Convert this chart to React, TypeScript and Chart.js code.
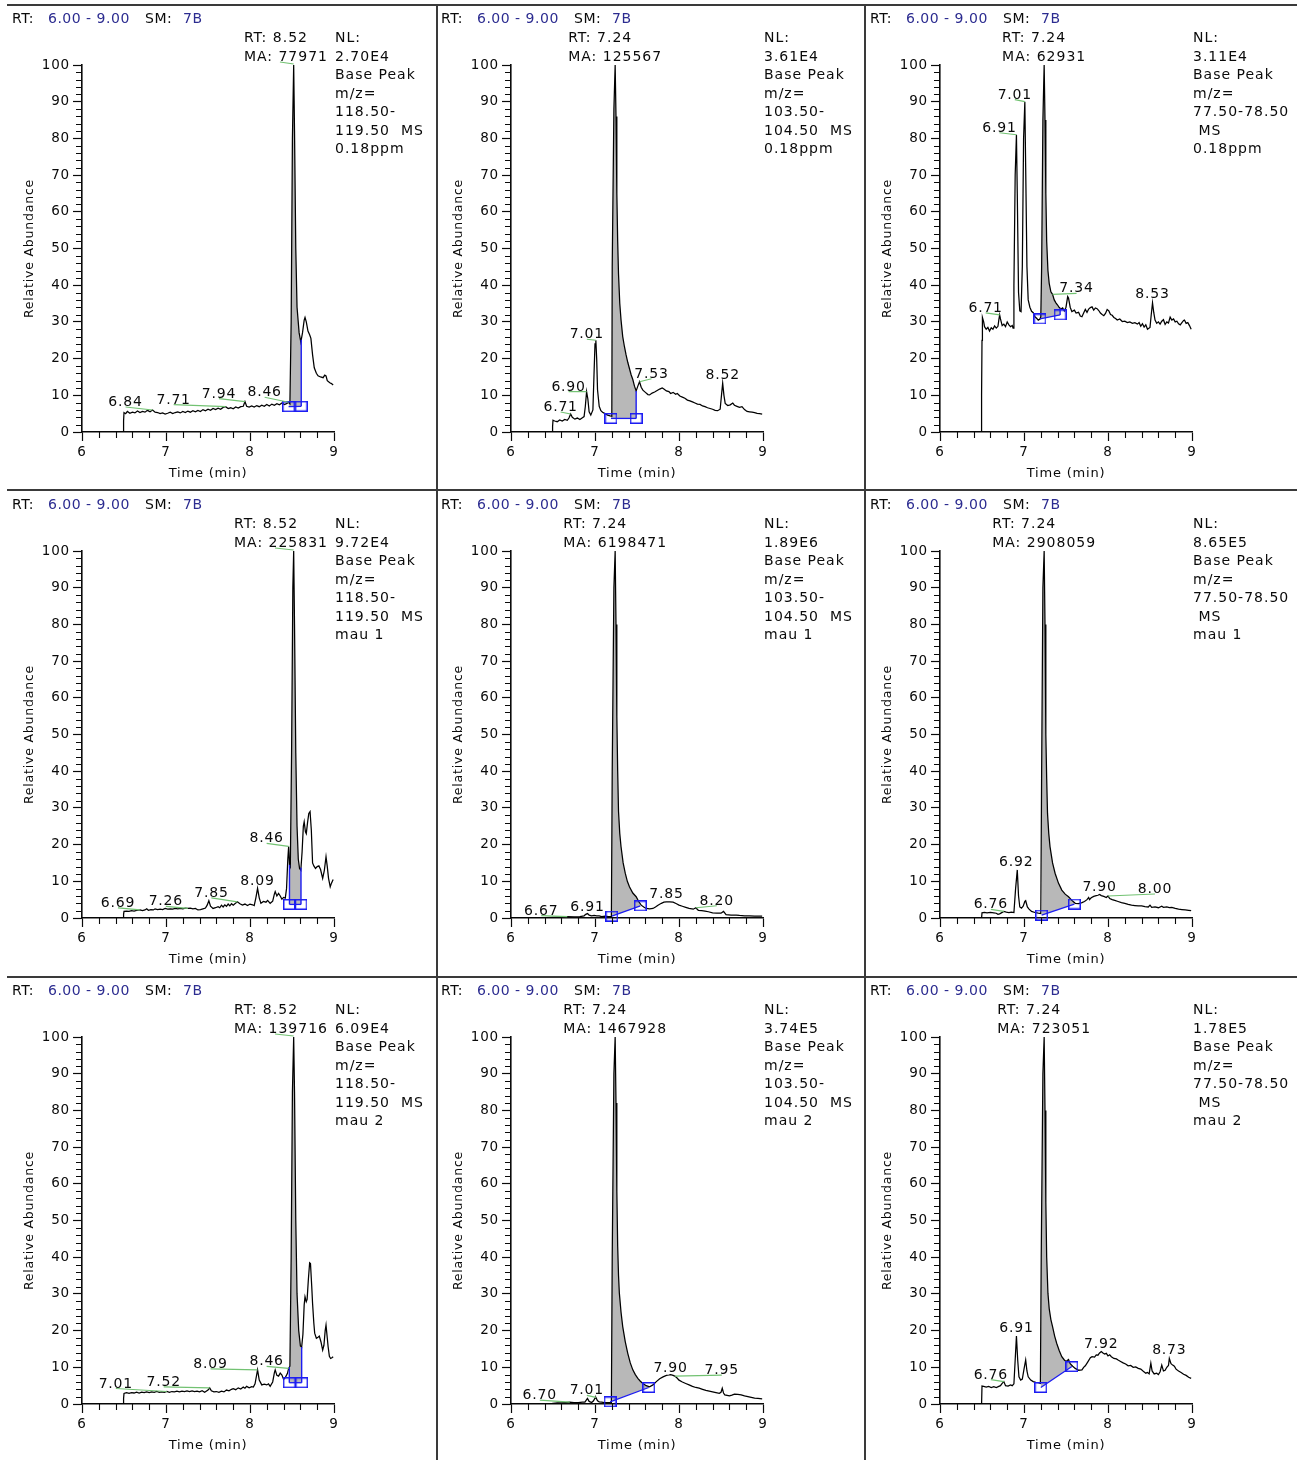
import React, { useEffect, useRef } from 'react';
import { Chart, registerables } from 'chart.js';

Chart.register(...registerables);

type Pt = [number, number];

// ---------- Chromatogram traces: [retention time (min), relative abundance (%)] ----------

// 0.18ppm, m/z 118.50-119.50
const ppm118: Pt[] = [
  [6.00, 0], [6.49, 0], [6.495, 3.0], [6.50, 5.3], [6.52, 5.0], [6.54, 5.6], [6.57, 5.1], [6.60, 5.4], [6.63, 5.2],
  [6.66, 5.7], [6.69, 5.3], [6.72, 5.6], [6.75, 5.4], [6.78, 5.9], [6.81, 5.5], [6.84, 6.0], [6.87, 5.4], [6.90, 5.3],
  [6.93, 5.0], [6.96, 5.2], [6.99, 4.9], [7.02, 5.1], [7.05, 5.4], [7.08, 5.0], [7.11, 5.3], [7.14, 5.5], [7.17, 5.2],
  [7.20, 5.6], [7.23, 5.3], [7.26, 5.7], [7.29, 5.4], [7.32, 5.8], [7.35, 5.5], [7.38, 5.9], [7.41, 5.6], [7.44, 6.1],
  [7.47, 5.8], [7.50, 6.2], [7.53, 5.9], [7.56, 6.4], [7.59, 6.1], [7.62, 6.5], [7.65, 6.2], [7.68, 6.7], [7.71, 6.9],
  [7.74, 6.4], [7.77, 6.6], [7.80, 6.3], [7.83, 6.8], [7.86, 6.5], [7.89, 6.9], [7.92, 7.0], [7.94, 8.3], [7.96, 7.0],
  [7.99, 6.8], [8.02, 7.1], [8.05, 6.8], [8.08, 7.2], [8.11, 6.9], [8.14, 7.3], [8.17, 7.0], [8.20, 7.5], [8.23, 7.1],
  [8.26, 7.6], [8.29, 7.3], [8.32, 7.7], [8.35, 7.4], [8.38, 7.9], [8.41, 7.5], [8.44, 7.8], [8.46, 8.1], [8.475, 7.7],
  [8.49, 30], [8.505, 80], [8.52, 100], [8.53, 82], [8.545, 50], [8.56, 34], [8.585, 27], [8.605, 24.5], [8.625, 27],
  [8.645, 30.5], [8.655, 31.2], [8.67, 30], [8.69, 27.5], [8.71, 26.5], [8.725, 25.5], [8.745, 21], [8.765, 17.5],
  [8.79, 16], [8.81, 15.3], [8.84, 15], [8.87, 14.8], [8.89, 15.5], [8.905, 15.3], [8.92, 14], [8.95, 13.4],
  [8.97, 13.2], [8.99, 12.8],
];

// 0.18ppm, m/z 103.50-104.50
const ppm103: Pt[] = [
  [6.00, 0], [6.49, 0], [6.495, 1.5], [6.50, 3.2], [6.52, 3.0], [6.55, 2.8], [6.58, 3.3], [6.61, 3.0], [6.64, 3.4],
  [6.67, 3.2], [6.69, 3.8], [6.71, 4.9], [6.73, 4.0], [6.76, 3.5], [6.79, 3.8], [6.82, 3.4], [6.85, 3.9], [6.87, 4.2],
  [6.885, 7], [6.90, 11], [6.915, 9], [6.93, 5.5], [6.95, 4.6], [6.975, 6], [6.99, 17], [7.00, 24], [7.01, 25],
  [7.02, 20], [7.03, 11.5], [7.05, 7], [7.07, 5.8], [7.09, 5.4], [7.12, 5.0], [7.15, 4.6], [7.18, 4.4], [7.20, 4.3],
  [7.205, 45], [7.225, 88], [7.24, 100], [7.25, 86], [7.26, 65], [7.27, 52], [7.28, 43], [7.295, 35], [7.31, 30.5],
  [7.33, 26], [7.35, 23.3], [7.37, 21], [7.39, 19], [7.41, 17.3], [7.43, 15.6], [7.45, 14.3], [7.47, 12.5],
  [7.49, 11.2], [7.51, 12.5], [7.53, 13.7], [7.55, 12.2], [7.57, 11.4], [7.60, 10.8], [7.63, 10.2], [7.65, 10.1],
  [7.68, 10.6], [7.71, 10.9], [7.74, 11.3], [7.77, 11.7], [7.80, 12.0], [7.82, 11.7], [7.85, 11.2], [7.88, 11.0],
  [7.90, 10.5], [7.93, 10.8], [7.96, 10.3], [7.98, 10.5], [8.01, 9.8], [8.04, 9.5], [8.07, 9.2], [8.10, 8.7],
  [8.13, 8.5], [8.16, 8.2], [8.19, 7.9], [8.22, 7.6], [8.25, 7.5], [8.28, 7.1], [8.31, 6.9], [8.34, 6.6], [8.37, 6.4],
  [8.40, 6.2], [8.43, 5.9], [8.46, 5.8], [8.49, 6.2], [8.51, 11], [8.52, 13.3], [8.535, 10], [8.55, 7.8], [8.58, 7.2],
  [8.61, 7.4], [8.64, 7.9], [8.66, 7.3], [8.69, 7.0], [8.72, 6.7], [8.75, 6.9], [8.78, 6.1], [8.81, 5.6], [8.84, 5.5],
  [8.87, 5.4], [8.90, 5.3], [8.93, 5.1], [8.96, 5.0], [8.99, 4.9],
];

// 0.18ppm, m/z 77.50-78.50
const ppm77: Pt[] = [
  [6.00, 0], [6.49, 0], [6.495, 10], [6.50, 25], [6.505, 31.2], [6.52, 30], [6.53, 28.7], [6.55, 28.0], [6.57, 28.5],
  [6.59, 27.5], [6.61, 28.4], [6.63, 28.0], [6.65, 28.9], [6.67, 28.3], [6.69, 28.8], [6.70, 30.5], [6.71, 31.9],
  [6.72, 30.8], [6.74, 29.0], [6.76, 29.4], [6.78, 28.7], [6.80, 30.0], [6.82, 29.2], [6.84, 28.7], [6.86, 29.0],
  [6.87, 28.3], [6.88, 40], [6.895, 70], [6.91, 81], [6.92, 65], [6.935, 38], [6.95, 33], [6.965, 32.8], [6.98, 45],
  [6.995, 80], [7.01, 90], [7.02, 72], [7.035, 45], [7.05, 36], [7.07, 34], [7.09, 32.9], [7.11, 32.5], [7.13, 31.4],
  [7.15, 31.0], [7.17, 30.5], [7.19, 30.8], [7.20, 31.4], [7.21, 45], [7.225, 85], [7.24, 100], [7.25, 85],
  [7.26, 65], [7.27, 52], [7.285, 44], [7.30, 40.5], [7.32, 38.2], [7.34, 37.5], [7.36, 36], [7.38, 35.2],
  [7.40, 34.6], [7.42, 33.9], [7.44, 33.5], [7.46, 33.8], [7.48, 33.0], [7.50, 34.0], [7.52, 36.9], [7.53, 36.5],
  [7.55, 34.0], [7.57, 32.8], [7.60, 33.2], [7.62, 32.4], [7.65, 32.6], [7.67, 31.6], [7.69, 31.4], [7.71, 32.4],
  [7.73, 33.4], [7.75, 32.6], [7.77, 33.5], [7.79, 33.9], [7.81, 34.1], [7.83, 33.2], [7.85, 33.8], [7.87, 33.6],
  [7.89, 33.1], [7.91, 32.4], [7.93, 32.0], [7.95, 31.7], [7.97, 32.3], [7.99, 33.4], [8.01, 33.0], [8.03, 32.0],
  [8.05, 31.8], [8.07, 31.2], [8.09, 30.9], [8.11, 30.5], [8.14, 30.8], [8.17, 30.1], [8.20, 30.2], [8.23, 29.8],
  [8.26, 30.0], [8.29, 29.6], [8.32, 29.8], [8.35, 29.4], [8.37, 29.8], [8.39, 28.8], [8.41, 29.5], [8.43, 28.6],
  [8.45, 29.2], [8.47, 28.0], [8.50, 28.5], [8.515, 32], [8.53, 35.2], [8.545, 32.5], [8.56, 30.5], [8.58, 29.6],
  [8.60, 30.0], [8.62, 29.4], [8.64, 30.2], [8.66, 30.6], [8.68, 29.3], [8.70, 30.0], [8.72, 29.7], [8.74, 31.3],
  [8.76, 30.5], [8.78, 30.8], [8.80, 30.0], [8.82, 30.2], [8.84, 29.5], [8.86, 29.2], [8.88, 29.8], [8.90, 30.4],
  [8.91, 30.5], [8.93, 29.6], [8.95, 29.8], [8.97, 29.0], [8.99, 28.0],
];

// mau 1, m/z 118.50-119.50
const mau1_118: Pt[] = [
  [6.00, 0], [6.49, 0], [6.495, 1.0], [6.50, 1.8], [6.53, 1.9], [6.56, 1.8], [6.59, 2.0], [6.62, 1.9], [6.65, 2.1],
  [6.69, 2.2], [6.72, 2.0], [6.75, 2.2], [6.77, 2.5], [6.79, 2.1], [6.82, 2.3], [6.85, 2.2], [6.87, 2.5], [6.90, 2.3],
  [6.93, 2.4], [6.96, 2.3], [6.99, 2.6], [7.02, 2.4], [7.05, 2.5], [7.08, 2.4], [7.11, 2.6], [7.14, 2.5], [7.17, 2.6],
  [7.20, 2.5], [7.23, 2.7], [7.26, 2.6], [7.29, 2.7], [7.32, 2.5], [7.35, 2.6], [7.38, 2.2], [7.41, 2.3], [7.44, 2.5],
  [7.47, 2.7], [7.49, 3.5], [7.51, 4.7], [7.53, 3.2], [7.56, 2.6], [7.59, 2.8], [7.62, 3.1], [7.64, 2.8], [7.66, 3.5],
  [7.68, 3.0], [7.70, 3.6], [7.72, 3.2], [7.74, 3.8], [7.76, 3.3], [7.78, 3.9], [7.80, 3.5], [7.82, 3.9], [7.85, 4.4],
  [7.88, 3.9], [7.91, 3.5], [7.94, 3.8], [7.97, 3.4], [8.00, 3.8], [8.03, 3.6], [8.05, 3.4], [8.07, 5.5], [8.09, 8.1],
  [8.11, 5.5], [8.13, 4.0], [8.16, 4.5], [8.19, 4.3], [8.21, 4.8], [8.24, 4.0], [8.27, 4.6], [8.29, 6.5], [8.30, 7.2],
  [8.32, 6.0], [8.34, 6.7], [8.36, 6.0], [8.38, 5.1], [8.40, 5.6], [8.42, 5.4], [8.435, 8], [8.45, 16], [8.46, 19.5],
  [8.47, 14.5], [8.48, 14], [8.495, 45], [8.51, 90], [8.52, 100], [8.53, 80], [8.545, 45], [8.56, 25], [8.575, 16],
  [8.59, 13.5], [8.605, 13], [8.62, 18], [8.635, 25], [8.645, 26.2], [8.66, 23.5], [8.67, 23], [8.685, 26], [8.70, 28.5],
  [8.715, 29], [8.73, 24], [8.745, 15], [8.76, 14.2], [8.78, 13.5], [8.80, 14.0], [8.82, 14.2], [8.84, 13.2],
  [8.865, 10.8], [8.885, 13], [8.905, 16.7], [8.92, 14], [8.935, 10.8], [8.955, 8.5], [8.97, 9.5], [8.99, 10.5],
];

// mau 1, m/z 103.50-104.50
const mau1_103: Pt[] = [
  [6.00, 0], [6.40, 0.1], [6.50, 0.2], [6.60, 0.3], [6.67, 0.4], [6.75, 0.3], [6.82, 0.4], [6.87, 0.6], [6.89, 1.0],
  [6.91, 1.2], [6.93, 0.8], [6.96, 0.6], [6.99, 0.7], [7.02, 0.6], [7.05, 0.6], [7.08, 0.4], [7.12, 0.5], [7.16, 0.4],
  [7.195, 0.4], [7.205, 40], [7.225, 90], [7.24, 100], [7.25, 80], [7.26, 55], [7.27, 40], [7.28, 29], [7.295, 23],
  [7.31, 19.4], [7.335, 15], [7.36, 12.2], [7.385, 10], [7.41, 8.5], [7.45, 6.8], [7.49, 5.8], [7.52, 4.5],
  [7.55, 3.5], [7.58, 3.0], [7.61, 2.6], [7.65, 2.5], [7.69, 2.6], [7.72, 3.0], [7.75, 3.5], [7.79, 4.0], [7.82, 4.3],
  [7.85, 4.4], [7.89, 4.4], [7.93, 4.3], [7.97, 3.9], [8.00, 3.5], [8.04, 3.2], [8.08, 2.9], [8.12, 2.6], [8.17, 2.4],
  [8.20, 2.8], [8.23, 2.1], [8.27, 2.0], [8.31, 1.9], [8.35, 1.7], [8.40, 1.4], [8.45, 1.3], [8.50, 1.3], [8.53, 1.8],
  [8.56, 0.9], [8.62, 0.8], [8.68, 0.8], [8.72, 0.7], [8.78, 0.6], [8.84, 0.6], [8.90, 0.5], [8.95, 0.5], [8.99, 0.5],
];

// mau 1, m/z 77.50-78.50
const mau1_77: Pt[] = [
  [6.00, 0], [6.495, 0], [6.50, 1.4], [6.53, 1.5], [6.56, 1.4], [6.60, 1.5], [6.64, 1.4], [6.67, 1.3], [6.69, 1.0],
  [6.71, 1.1], [6.73, 1.4], [6.76, 1.8], [6.79, 1.6], [6.82, 1.5], [6.85, 1.6], [6.88, 1.5], [6.90, 8], [6.92, 13.1],
  [6.935, 6], [6.95, 3.0], [6.97, 2.7], [6.99, 3.2], [7.01, 4.5], [7.02, 4.7], [7.04, 3.0], [7.06, 2.4], [7.09, 1.8],
  [7.13, 1.5], [7.17, 1.3], [7.20, 1.2], [7.21, 40], [7.225, 90], [7.24, 100], [7.25, 80], [7.26, 50], [7.27, 38],
  [7.28, 28.5], [7.295, 23], [7.31, 19.4], [7.34, 15], [7.37, 12.2], [7.41, 9.5], [7.45, 7.6], [7.49, 6.5],
  [7.53, 5.8], [7.57, 4.8], [7.61, 4.0], [7.65, 3.9], [7.69, 4.2], [7.72, 4.5], [7.75, 5.0], [7.77, 5.6], [7.78, 5.0],
  [7.80, 5.5], [7.83, 5.9], [7.86, 6.1], [7.88, 6.2], [7.90, 6.4], [7.92, 6.1], [7.95, 5.9], [7.98, 5.6], [8.00, 6.0],
  [8.02, 5.3], [8.05, 5.0], [8.08, 4.8], [8.12, 4.5], [8.16, 4.2], [8.20, 4.0], [8.24, 3.7], [8.28, 3.5], [8.32, 3.4],
  [8.36, 3.3], [8.40, 3.3], [8.44, 3.1], [8.48, 3.0], [8.50, 3.5], [8.52, 2.9], [8.56, 3.0], [8.60, 2.8], [8.64, 3.2],
  [8.66, 2.9], [8.70, 3.0], [8.73, 2.8], [8.76, 2.9], [8.80, 2.6], [8.84, 2.4], [8.88, 2.3], [8.92, 2.2], [8.96, 2.1],
  [8.99, 2.0],
];

// mau 2, m/z 118.50-119.50
const mau2_118: Pt[] = [
  [6.00, 0], [6.49, 0], [6.495, 1.5], [6.50, 2.9], [6.53, 3.1], [6.56, 2.9], [6.59, 3.1], [6.62, 3.0], [6.65, 3.2],
  [6.68, 3.0], [6.71, 3.2], [6.74, 3.1], [6.77, 3.3], [6.80, 3.1], [6.83, 3.3], [6.86, 3.2], [6.89, 3.4], [6.92, 3.2],
  [6.95, 3.3], [6.98, 3.2], [7.01, 3.4], [7.04, 3.2], [7.07, 3.4], [7.10, 3.3], [7.13, 3.5], [7.16, 3.3], [7.19, 3.5],
  [7.22, 3.4], [7.25, 3.6], [7.28, 3.4], [7.31, 3.6], [7.34, 3.4], [7.37, 3.5], [7.40, 3.3], [7.43, 3.6], [7.46, 3.2],
  [7.50, 3.8], [7.52, 4.4], [7.54, 3.6], [7.57, 3.3], [7.60, 3.4], [7.63, 3.2], [7.66, 3.5], [7.69, 3.3], [7.72, 3.8],
  [7.75, 3.6], [7.78, 4.0], [7.80, 4.2], [7.83, 3.9], [7.86, 4.4], [7.89, 4.1], [7.92, 4.6], [7.94, 4.3], [7.96, 4.8],
  [7.99, 4.4], [8.02, 4.7], [8.04, 4.6], [8.06, 5.5], [8.09, 9.3], [8.11, 6.5], [8.14, 5.2], [8.17, 5.4], [8.20, 5.2],
  [8.22, 5.5], [8.24, 4.8], [8.27, 6.0], [8.29, 8.5], [8.30, 9.3], [8.32, 7.8], [8.34, 7.6], [8.36, 8.4], [8.38, 7.9],
  [8.40, 6.7], [8.42, 7.2], [8.445, 8.3], [8.46, 9.7], [8.475, 10.3], [8.49, 40], [8.505, 85], [8.52, 100],
  [8.53, 85], [8.545, 50], [8.56, 30], [8.58, 20], [8.60, 15.8], [8.615, 15.5], [8.63, 19], [8.645, 27],
  [8.655, 29.2], [8.67, 27.9], [8.68, 28.5], [8.695, 34], [8.71, 38.5], [8.72, 38.3], [8.735, 32], [8.745, 27.4],
  [8.76, 22], [8.77, 19.3], [8.79, 17.9], [8.81, 18.2], [8.825, 18.5], [8.845, 16.9], [8.865, 14.7], [8.88, 16],
  [8.895, 20], [8.905, 21.5], [8.92, 18], [8.93, 15.6], [8.945, 13], [8.96, 12.4], [8.975, 12.6], [8.99, 12.9],
];

// mau 2, m/z 103.50-104.50
const mau2_103: Pt[] = [
  [6.00, 0], [6.45, 0], [6.50, 0.2], [6.55, 0.3], [6.60, 0.3], [6.65, 0.4], [6.70, 0.5], [6.75, 0.4], [6.80, 0.4],
  [6.85, 0.5], [6.88, 0.5], [6.90, 1.2], [6.91, 1.5], [6.93, 0.7], [6.96, 0.4], [6.98, 0.8], [7.00, 1.6], [7.01, 1.8],
  [7.03, 0.9], [7.05, 0.6], [7.08, 0.5], [7.11, 0.4], [7.15, 0.4], [7.195, 0.4], [7.205, 40], [7.225, 90], [7.24, 100],
  [7.25, 82], [7.26, 58], [7.27, 43], [7.28, 35], [7.29, 30.2], [7.31, 25], [7.33, 21.1], [7.36, 17], [7.39, 13.8],
  [7.42, 11.2], [7.45, 9.3], [7.48, 8.0], [7.51, 7.0], [7.54, 6.2], [7.57, 5.6], [7.61, 5.0], [7.65, 4.7], [7.69, 5.2],
  [7.73, 6.1], [7.77, 6.9], [7.81, 7.4], [7.85, 7.8], [7.88, 7.9], [7.90, 8.0], [7.93, 7.8], [7.95, 7.6], [7.98, 7.0],
  [8.00, 6.5], [8.04, 6.0], [8.08, 5.6], [8.12, 5.2], [8.16, 4.8], [8.20, 4.5], [8.24, 4.3], [8.28, 4.0], [8.32, 3.7],
  [8.36, 3.5], [8.40, 3.3], [8.44, 3.1], [8.48, 2.9], [8.50, 3.2], [8.515, 4.3], [8.53, 3.0], [8.545, 2.5], [8.60, 2.2],
  [8.63, 2.4], [8.66, 2.7], [8.70, 2.6], [8.74, 2.5], [8.78, 2.2], [8.82, 2.0], [8.86, 1.8], [8.90, 1.6], [8.94, 1.5],
  [8.99, 1.4],
];

// mau 2, m/z 77.50-78.50
const mau2_77: Pt[] = [
  [6.00, 0], [6.495, 0], [6.50, 4.9], [6.52, 4.8], [6.55, 4.6], [6.58, 4.8], [6.61, 4.5], [6.64, 4.7], [6.67, 4.5],
  [6.70, 4.8], [6.72, 5.0], [6.74, 5.6], [6.76, 6.1], [6.78, 5.0], [6.81, 4.9], [6.84, 5.2], [6.86, 5.0], [6.88, 5.5],
  [6.895, 12], [6.91, 18.5], [6.925, 12], [6.94, 7.4], [6.96, 6.5], [6.98, 6.8], [7.00, 9.5], [7.02, 12.0],
  [7.035, 9], [7.05, 7.4], [7.08, 6.5], [7.11, 6.1], [7.14, 5.9], [7.17, 5.8], [7.195, 5.6], [7.205, 40], [7.225, 90],
  [7.24, 100], [7.25, 80], [7.26, 55], [7.27, 40], [7.285, 30.2], [7.30, 26], [7.32, 23], [7.34, 21.1], [7.365, 18.5],
  [7.39, 16.5], [7.42, 14.5], [7.45, 12.9], [7.48, 12.0], [7.50, 11.6], [7.53, 12.1], [7.55, 11.0], [7.58, 10.3],
  [7.61, 9.7], [7.65, 9.2], [7.69, 9.3], [7.71, 10.0], [7.73, 10.4], [7.76, 11.5], [7.79, 12.6], [7.81, 12.9],
  [7.84, 12.8], [7.86, 13.4], [7.88, 13.3], [7.90, 13.9], [7.92, 14.3], [7.94, 13.9], [7.96, 13.6], [7.98, 13.8],
  [8.00, 13.1], [8.02, 13.4], [8.04, 12.9], [8.07, 12.4], [8.10, 12.3], [8.12, 12.0], [8.15, 11.6], [8.18, 11.2],
  [8.21, 10.9], [8.24, 10.4], [8.27, 10.5], [8.30, 10.0], [8.33, 10.1], [8.36, 9.7], [8.39, 9.5], [8.42, 8.9],
  [8.45, 8.4], [8.47, 8.6], [8.49, 8.2], [8.51, 11.1], [8.525, 9], [8.55, 8.2], [8.58, 8.4], [8.60, 8.0], [8.62, 8.8],
  [8.64, 10.6], [8.66, 9.0], [8.68, 9.2], [8.70, 10.0], [8.72, 10.5], [8.73, 12.4], [8.75, 11.0], [8.77, 10.6],
  [8.79, 10.3], [8.81, 9.5], [8.84, 9.0], [8.87, 8.6], [8.90, 8.1], [8.93, 7.8], [8.96, 7.3], [8.99, 7.0],
];

const traces: Pt[][] = [ppm118, ppm103, ppm77, mau1_118, mau1_103, mau1_77, mau2_118, mau2_103, mau2_77];

// ---------- Integrated peak: baseline start / end points ----------
const areaStarts: Pt[] = [[8.46, 6.9], [7.19, 3.7], [7.19, 30.8], [8.47, 3.7], [7.20, 0.5], [7.21, 0.8], [8.468, 5.8], [7.18, 0.6], [7.20, 4.5]];
const areaEnds: Pt[] = [[8.61, 7.0], [7.49, 3.7], [7.43, 31.9], [8.607, 3.7], [7.54, 3.3], [7.60, 3.8], [8.615, 5.8], [7.64, 4.5], [7.57, 10.2]];
// which integration edges get a vertical drop line: [start, end]
const areaEdges: [boolean, boolean][] = [[false, true], [false, true], [false, true], [true, true], [false, false], [false, false], [true, true], [false, false], [false, false]];

// ---------- Peak annotations ----------
const apexRT = [8.52, 7.24, 7.24];
const peakAreas = ['77971', '125567', '62931', '225831', '6198471', '2908059', '139716', '1467928', '723051'];
const nlIntensity = ['2.70E4', '3.61E4', '3.11E4', '9.72E4', '1.89E6', '8.65E5', '6.09E4', '3.74E5', '1.78E5'];
const massRanges = [['118.50-', '119.50  MS'], ['103.50-', '104.50  MS'], ['77.50-78.50', ' MS']];
const sampleTags = ['0.18ppm', 'mau 1', 'mau 2'];

const peakRTs: number[][] = [
  [6.84, 7.71, 7.94, 8.46],
  [6.71, 6.90, 7.01, 7.53, 8.52],
  [6.71, 6.91, 7.01, 7.34, 8.53],
  [6.69, 7.26, 7.85, 8.09, 8.46],
  [6.67, 6.91, 7.85, 8.20],
  [6.76, 6.92, 7.90, 8.00],
  [7.01, 7.52, 8.09, 8.46],
  [6.70, 7.01, 7.90, 7.95],
  [6.76, 6.91, 7.92, 8.73],
];
// label placement relative to the peak point, in pixels
const labelShift: [number, number][][] = [
  [[-27, -4], [-52, -3], [-26, -4], [-24, -6]],
  [[-10, -3], [-18, -1], [-9, -2], [12, -4], [0, -4]],
  [[-14, -3], [-17, -3], [-10, -3], [24, -2], [0, -5]],
  [[-22, -3], [-22, -3], [-26, -5], [0, -3], [-22, -4]],
  [[-26, -2], [0, -3], [0, -4], [21, -3]],
  [[-13, -3], [-1, -4], [0, -4], [47, -3]],
  [[-51, -4], [-46, -2], [-47, -2], [-22, -3]],
  [[-30, -3], [-9, -3], [0, -3], [47, -2]],
  [[-13, -3], [0, -4], [0, -4], [0, -4]],
];

const xTicks = [6, 7, 8, 9];
const yTicks = [0, 10, 20, 30, 40, 50, 60, 70, 80, 90, 100];

// ---------- Styling ----------
const FONT = '"DejaVu Sans", "Liberation Sans", Arial, sans-serif';
const INK = '#0a0a0a';
const NAVY = '#2c2c90';
const BLUE = '#1c1cf2';
const GREEN = '#72c272';
const FILL = '#b8b8b8';

const COL_LEFT = [7, 436, 865];
const COL_WIDTH = [429, 428, 432];
const ROW_TOP = [5, 491, 977];
const PANEL_H = 486;
const PLOT_LEFT = 75;
const PLOT_TOP = 60;
const PLOT_W = 252;
const PLOT_H = 367;

function valueAt(trace: Pt[], t: number): number {
  for (let i = 1; i < trace.length; i++) {
    const [x0, y0] = trace[i - 1];
    const [x1, y1] = trace[i];
    if (t >= x0 && t <= x1) return x1 === x0 ? y1 : y0 + ((y1 - y0) * (t - x0)) / (x1 - x0);
  }
  return trace[trace.length - 1][1];
}

function peakValue(trace: Pt[], t: number): number {
  let m = valueAt(trace, t);
  for (const [x, y] of trace) if (Math.abs(x - t) <= 0.012 && y > m) m = y;
  return m;
}

const xy = (pts: Pt[]) => pts.map(([x, y]) => ({ x, y }));

function Chromatogram({ index }: { index: number }) {
  const ref = useRef<HTMLCanvasElement | null>(null);
  const row = Math.floor(index / 3);
  const col = index % 3;
  const width = COL_WIDTH[col];

  useEffect(() => {
    const canvas = ref.current;
    if (!canvas) return;
    const trace = traces[index];
    const start = areaStarts[index];
    const end = areaEnds[index];
    const [startEdge, endEdge] = areaEdges[index];

    // small open square used for integration boundary markers
    const marker = document.createElement('canvas');
    marker.width = 13;
    marker.height = 11;
    const mctx = marker.getContext('2d')!;
    mctx.strokeStyle = BLUE;
    mctx.lineWidth = 1.5;
    mctx.strokeRect(0.75, 0.75, 11.5, 9.5);

    const inside = trace.filter(([x]) => x > start[0] && x < end[0]);
    const areaPts: Pt[] = [[start[0], valueAt(trace, start[0])], ...inside, [end[0], valueAt(trace, end[0])]];

    const datasets: any[] = [
      { data: xy(areaPts), borderWidth: 0, borderColor: 'rgba(0,0,0,0)', pointRadius: 0, fill: 1, backgroundColor: FILL, order: 6 },
      { data: xy([start, end]), borderColor: BLUE, borderWidth: 1.3, pointStyle: marker, pointRadius: 6, fill: false, clip: false, order: 1 },
      { data: xy(trace), borderColor: '#000', borderWidth: 1.25, pointRadius: 0, fill: false, order: 3 },
    ];
    if (startEdge) datasets.push({ data: xy([start, [start[0], valueAt(trace, start[0])]]), borderColor: BLUE, borderWidth: 1.4, pointRadius: 0, fill: false, order: 2 });
    if (endEdge) datasets.push({ data: xy([end, [end[0], valueAt(trace, end[0])]]), borderColor: BLUE, borderWidth: 1.4, pointRadius: 0, fill: false, order: 2 });

    const annotate = {
      id: 'chromAnnotations',
      beforeDraw(chart: any) {
        (chart.ctx as any).letterSpacing = '0.8px';
      },
      afterDraw(chart: any) {
        const { ctx, chartArea: ca } = chart;
        const xs = chart.scales.x;
        const ys = chart.scales.y;
        ctx.save();

        // minor tick marks
        ctx.strokeStyle = INK;
        ctx.lineWidth = 1.1;
        ctx.beginPath();
        for (let v = 2; v < 100; v += 2) {
          if (v % 10 === 0) continue;
          const py = Math.round(ys.getPixelForValue(v)) + 0.5;
          ctx.moveTo(ca.left - 6, py);
          ctx.lineTo(ca.left, py);
        }
        for (let i = 1; i < 15; i++) {
          if (i % 5 === 0) continue;
          const px = Math.round(xs.getPixelForValue(6 + i * 0.2)) + 0.5;
          ctx.moveTo(px, ca.bottom);
          ctx.lineTo(px, ca.bottom + 6);
        }
        ctx.stroke();

        ctx.textAlign = 'left';
        ctx.textBaseline = 'alphabetic';

        // header: time range and smoothing
        ctx.font = `14px ${FONT}`;
        ctx.letterSpacing = '0.5px';
        const hy = ca.top - 42;
        const header: [string, number, string][] = [['RT:', 5, INK], ['6.00 - 9.00', 41, NAVY], ['SM:', 138, INK], ['7B', 176, NAVY]];
        for (const [txt, hx, color] of header) {
          ctx.fillStyle = color;
          ctx.fillText(txt, hx, hy);
        }

        // apex retention time and peak area
        ctx.letterSpacing = '1px';
        ctx.fillStyle = INK;
        const rt = apexRT[col];
        const lines = [`RT: ${rt.toFixed(2)}`, `MA: ${peakAreas[index]}`];
        const bw = Math.max(...lines.map((l) => ctx.measureText(l).width));
        const ax = xs.getPixelForValue(rt);
        const ay = ys.getPixelForValue(peakValue(trace, rt));
        const bl = Math.min(ax - bw / 2, ca.right - bw - 6);
        ctx.fillText(lines[0], bl, ca.top - 23);
        ctx.fillText(lines[1], bl, ca.top - 4);
        if (Math.abs(bl + bw / 2 - ax) > 3) {
          ctx.strokeStyle = GREEN;
          ctx.lineWidth = 1.2;
          ctx.beginPath();
          ctx.moveTo(bl + bw / 2 - 6, ca.top - 3);
          ctx.lineTo(ax, ay - 1);
          ctx.stroke();
        }

        // normalisation level and scan filter
        const nl = ['NL:', nlIntensity[index], 'Base Peak', 'm/z=', massRanges[col][0], massRanges[col][1], sampleTags[row]];
        nl.forEach((txt, i) => ctx.fillText(txt, ca.right + 1, ca.top - 23 + i * 18.5));

        // labelled peaks with leader lines
        ctx.font = `14px ${FONT}`;
        ctx.letterSpacing = '0.8px';
        ctx.textAlign = 'center';
        peakRTs[index].forEach((prt, i) => {
          const [dx, dy] = labelShift[index][i];
          const px = xs.getPixelForValue(prt);
          const py = ys.getPixelForValue(peakValue(trace, prt));
          const lx = px + dx;
          const ly = py + dy;
          if (Math.abs(dx) > 3) {
            ctx.strokeStyle = GREEN;
            ctx.lineWidth = 1.2;
            ctx.beginPath();
            ctx.moveTo(lx, ly + 1);
            ctx.lineTo(px, py);
            ctx.stroke();
          }
          ctx.fillStyle = INK;
          ctx.fillText(prt.toFixed(2), lx, ly);
        });

        ctx.restore();
        (ctx as any).letterSpacing = '0px';
      },
    };

    const tickFont = { family: FONT, size: 13.5 };
    const chart = new Chart(canvas, {
      type: 'line',
      data: { datasets },
      options: {
        responsive: false,
        animation: false,
        devicePixelRatio: 1,
        events: [],
        layout: { padding: { top: PLOT_TOP, left: 0, bottom: 0, right: width - PLOT_LEFT - PLOT_W } },
        plugins: { legend: { display: false }, tooltip: { enabled: false }, title: { display: false } },
        scales: {
          x: {
            type: 'linear',
            min: xTicks[0],
            max: xTicks[xTicks.length - 1],
            afterFit: (s: any) => {
              s.height = PANEL_H - PLOT_TOP - PLOT_H;
            },
            afterBuildTicks: (s: any) => {
              s.ticks = xTicks.map((v) => ({ value: v }));
            },
            ticks: { autoSkip: false, maxRotation: 0, font: tickFont, color: INK, padding: 3, callback: (v: any) => String(v) },
            grid: { display: true, drawOnChartArea: false, drawTicks: true, tickLength: 9, tickWidth: 1.2, tickColor: INK },
            border: { display: true, color: INK, width: 1.6 },
            title: { display: true, text: 'Time (min)', color: INK, font: { family: FONT, size: 13 }, padding: { top: 0, bottom: 10 } },
          },
          y: {
            type: 'linear',
            min: yTicks[0],
            max: yTicks[yTicks.length - 1],
            afterFit: (s: any) => {
              s.width = PLOT_LEFT;
            },
            afterBuildTicks: (s: any) => {
              s.ticks = yTicks.map((v) => ({ value: v }));
            },
            ticks: { autoSkip: false, font: tickFont, color: INK, padding: 3, callback: (v: any) => String(v) },
            grid: { display: true, drawOnChartArea: false, drawTicks: true, tickLength: 9, tickWidth: 1.2, tickColor: INK },
            border: { display: true, color: INK, width: 1.6 },
            title: { display: true, text: 'Relative Abundance', color: INK, font: { family: FONT, size: 12.5 }, padding: { top: 15, bottom: 0 } },
          },
        },
      },
      plugins: [annotate],
    } as any);
    return () => chart.destroy();
  }, [index, row, col, width]);

  return (
    <canvas
      ref={ref}
      width={width}
      height={PANEL_H}
      style={{ position: 'absolute', left: COL_LEFT[col], top: ROW_TOP[row], width, height: PANEL_H, display: 'block' }}
    />
  );
}

export default function App() {
  const rule = '#3a3a3a';
  return (
    <div style={{ position: 'absolute', left: 0, top: 0, width: 1297, height: 1460, overflow: 'hidden', background: '#fff' }}>
      {traces.map((_, i) => (
        <Chromatogram key={i} index={i} />
      ))}
      <div style={{ position: 'absolute', left: 7, top: 4, width: 1290, height: 2, background: rule }} />
      <div style={{ position: 'absolute', left: 7, top: 489, width: 1290, height: 2, background: rule }} />
      <div style={{ position: 'absolute', left: 7, top: 976, width: 1290, height: 2, background: rule }} />
      <div style={{ position: 'absolute', left: 436, top: 4, width: 2, height: 1456, background: rule }} />
      <div style={{ position: 'absolute', left: 864, top: 4, width: 2, height: 1456, background: rule }} />
    </div>
  );
}
